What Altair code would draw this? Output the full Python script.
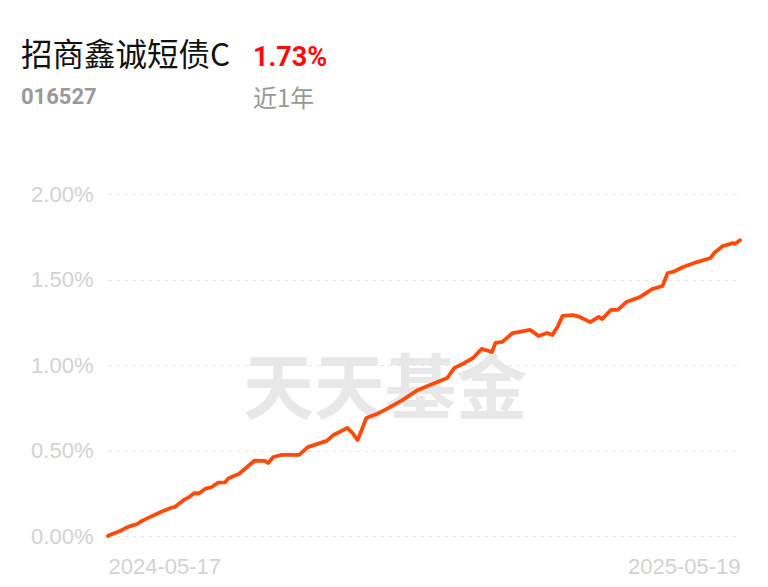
import altair as alt
import pandas as pd

dates = [
    "2024-05-17", "2024-05-18", "2024-05-24", "2024-05-27", "2024-05-30", "2024-06-03",
    "2024-06-06", "2024-06-10", "2024-06-13", "2024-06-17", "2024-06-22", "2024-06-25",
    "2024-06-30", "2024-07-03", "2024-07-06", "2024-07-09", "2024-07-13", "2024-07-16",
    "2024-07-20", "2024-07-24", "2024-07-26", "2024-07-29", "2024-08-01", "2024-08-06",
    "2024-08-10", "2024-08-16", "2024-08-18",
    "2024-08-21", "2024-08-26", "2024-09-05", "2024-09-10", "2024-09-21", "2024-09-25",
    "2024-10-03", "2024-10-06", "2024-10-09", "2024-10-14", "2024-10-20", "2024-10-27",
    "2024-11-04", "2024-11-13", "2024-11-20", "2024-11-30", "2024-12-04", "2024-12-10",
    "2024-12-15", "2024-12-20", "2024-12-26", "2024-12-28", "2025-01-01", "2025-01-07",
    "2025-01-17", "2025-01-19", "2025-01-22", "2025-01-27", "2025-01-30", "2025-02-02",
    "2025-02-05", "2025-02-11", "2025-02-15", "2025-02-21", "2025-02-26", "2025-02-28",
    "2025-03-05", "2025-03-09", "2025-03-14", "2025-03-22", "2025-03-29", "2025-04-04",
    "2025-04-07", "2025-04-10", "2025-04-16", "2025-04-24", "2025-05-02", "2025-05-04",
    "2025-05-09", "2025-05-15", "2025-05-16", "2025-05-19",
]
returns = [
    0.000, 0.006, 0.029, 0.045, 0.058, 0.070,
    0.090, 0.109, 0.123, 0.142, 0.162, 0.171,
    0.211, 0.226, 0.250, 0.250, 0.279, 0.285,
    0.312, 0.314, 0.337, 0.351, 0.363, 0.405,
    0.440, 0.439, 0.427,
    0.462, 0.474, 0.474, 0.520, 0.556, 0.591,
    0.632, 0.602, 0.561, 0.690, 0.713, 0.749,
    0.795, 0.854, 0.883, 0.924, 0.982, 1.012,
    1.041, 1.094, 1.076, 1.129, 1.135, 1.187,
    1.205, 1.193, 1.170, 1.187, 1.175, 1.222,
    1.287, 1.292, 1.281, 1.251, 1.281, 1.269,
    1.322, 1.322, 1.368, 1.398, 1.444, 1.462,
    1.538, 1.544, 1.573, 1.602, 1.626, 1.655,
    1.696, 1.713, 1.708, 1.730,
]
y_ticks = [0.0, 0.5, 1.0, 1.5, 2.0]
x_ticks = ["2024-05-17", "2025-05-19"]

fund_name = "招商鑫诚短债C"
fund_code = "016527"
period_return = "1.73%"
period_label = "近1年"
watermark = "天天基金"

df = pd.DataFrame({"date": pd.to_datetime(dates), "ret": returns})
x_tick_dt = [alt.DateTime(year=int(d[:4]), month=int(d[5:7]), date=int(d[8:])) for d in x_ticks]

base = alt.Chart(df)

line = base.mark_line(color="#FF4A0A", strokeWidth=3.8, strokeJoin="round", strokeCap="round").encode(
    x=alt.X("date:T",
            scale=alt.Scale(domain=[x_tick_dt[0], x_tick_dt[1]], nice=False),
            axis=alt.Axis(values=x_tick_dt, format="%Y-%m-%d", labelFlush=True,
                          grid=False, domain=False, ticks=False, title=None,
                          labelColor="#d2d2d2", labelFontSize=22, labelFont="Liberation Sans",
                          labelPadding=20)),
    y=alt.Y("ret:Q",
            scale=alt.Scale(domain=[0, 2.0], nice=False, zero=True),
            axis=alt.Axis(values=y_ticks, labelExpr="format(datum.value, '.2f') + '%'",
                          grid=True, gridDash=[4, 4], gridColor="#e6e6e6", gridWidth=1.2,
                          domain=False, ticks=False, title=None,
                          labelColor="#d2d2d2", labelFontSize=22, labelFont="Liberation Sans",
                          labelPadding=15)),
)

wm = alt.Chart(pd.DataFrame({"t": [watermark]})).mark_text(
    font="Noto Sans CJK SC", fontWeight="bold", fontSize=71, color="#e8e8e8",
    align="center", baseline="middle",
).encode(text="t:N", x=alt.value(277), y=alt.value(198))

def label(txt, x, y, size, color, weight="normal", font="Noto Sans CJK SC"):
    return alt.Chart(pd.DataFrame({"t": [txt]})).mark_text(
        font=font, fontSize=size, color=color, fontWeight=weight,
        align="left", baseline="middle",
    ).encode(text="t:N", x=alt.value(x), y=alt.value(y))

t1 = label(fund_name, -87, -137, 31.5, "#111111")
t2 = label(period_return, 145, -136, 27, "#ff0a0a", "bold", "Roboto")
t3 = label(fund_code, -87, -97, 22, "#999999", "bold", "Roboto")
t4 = label(period_label, 145, -94, 24, "#999999")

chart = alt.layer(wm, line, t1, t2, t3, t4).properties(
    width=632, height=342,
    autosize=alt.AutoSizeParams(type="none"),
    padding={"left": 100, "top": 186, "right": 20, "bottom": 45},
).configure(background="white", view=alt.ViewConfig(strokeWidth=0, stroke="transparent"))

chart.save("out.html", embed_options={"renderer": "svg", "actions": False})
